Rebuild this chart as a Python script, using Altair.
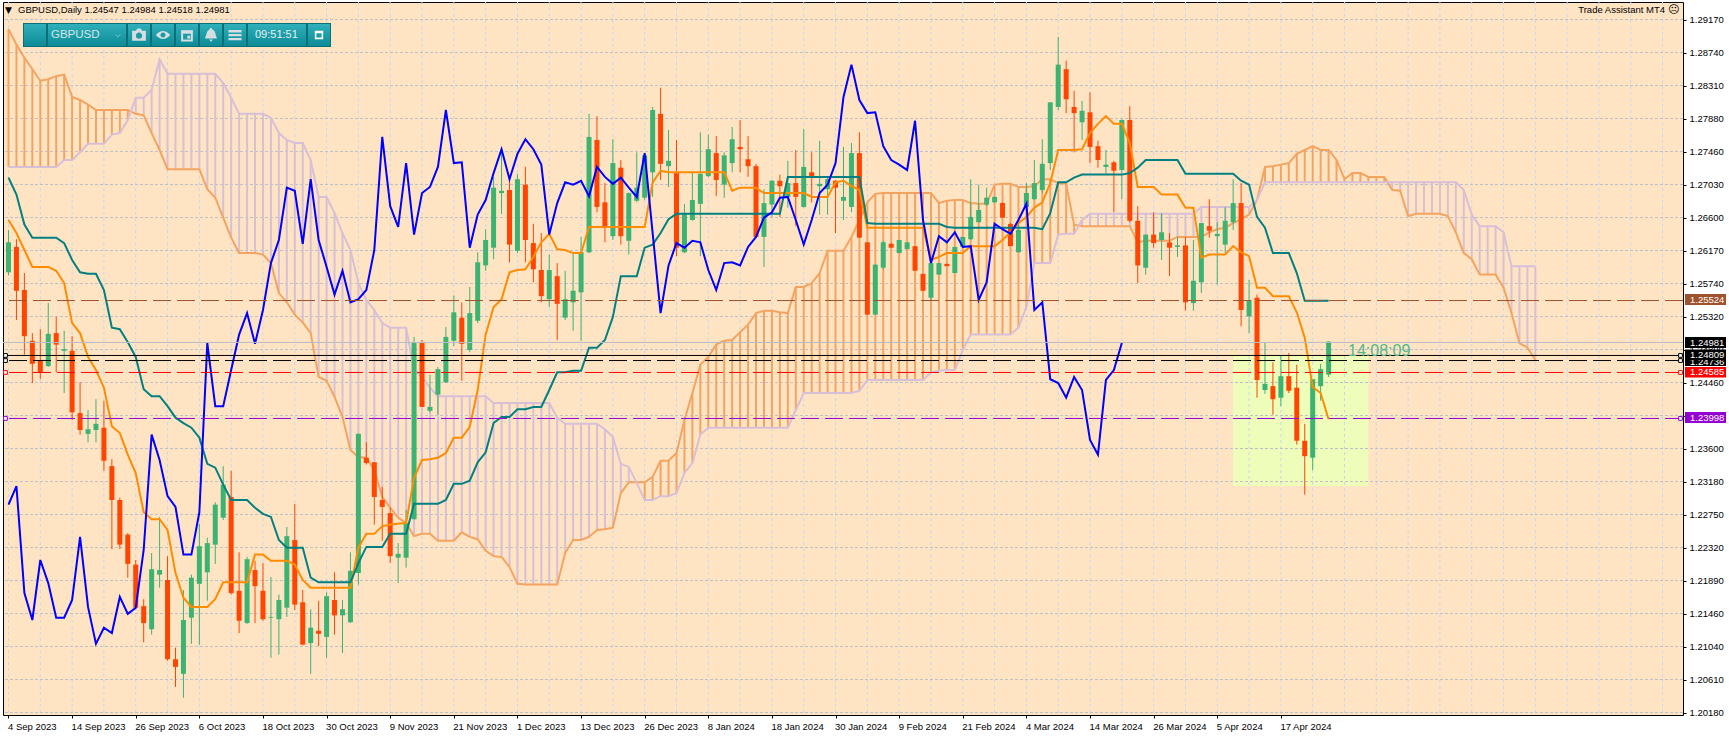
import altair as alt
import pandas as pd

# ---- prices in 1/10000 (pips) ----
highs = [12643,12631,12587,12509,12514,12548,12530,12512,12505,12445,
12409,12423,12421,12345,12295,12249,12214,12163,12223,12270,
12219,12100,12175,12195,12261,12243,12289,12336,12330,12224,
12218,12213,12210,12192,12169,12257,12287,12175,12150,12161,
12172,12198,12162,12224,12378,12367,12341,12309,12282,12236,
12279,12504,12500,12455,12465,12517,12558,12549,12569,12614,
12644,12712,12747,12708,12716,12725,12651,12639,12611,12600,
12590,12612,12634,12794,12791,12704,12761,12734,12692,12744,
12740,12803,12828,12773,12760,12677,12717,12770,12767,12765,
12744,12777,12786,12765,12729,12696,12708,12715,12733,12747,
12774,12744,12759,12711,12708,12751,12756,12770,12627,12598,
12629,12626,12630,12627,12622,12586,12601,12600,12599,12621,
12634,12709,12702,12698,12687,12679,12652,12653,12704,12734,
12761,12809,12894,12863,12824,12811,12822,12759,12747,12733,
12787,12804,12674,12637,12666,12665,12639,12634,12634,12630,
12652,12683,12653,12673,12709,12704,12578,12559,12497,12471,
12479,12483,12468,12391,12449,12469,12498]
lows = [12584,12526,12481,12444,12449,12465,12458,12431,12396,12377,
12367,12367,12330,12228,12228,12191,12150,12107,12117,12178,
12083,12049,12035,12105,12104,12161,12209,12266,12169,12119,
12131,12132,12135,12087,12091,12140,12149,12103,12066,12102,
12087,12117,12093,12132,12182,12338,12260,12239,12210,12184,
12204,12267,12413,12406,12403,12444,12492,12447,12484,12522,
12590,12605,12664,12601,12613,12601,12575,12549,12543,12500,
12526,12512,12499,12613,12666,12627,12630,12624,12611,12679,
12682,12686,12708,12699,12609,12613,12655,12609,12712,12687,
12685,12718,12718,12712,12634,12595,12660,12660,12672,12648,
12672,12679,12663,12663,12639,12656,12666,12633,12533,12533,
12592,12620,12613,12618,12590,12564,12552,12585,12596,12587,
12620,12630,12653,12674,12678,12659,12622,12614,12672,12682,
12691,12721,12799,12795,12744,12760,12730,12724,12716,12666,
12683,12653,12574,12585,12620,12604,12583,12608,12538,12538,
12561,12633,12572,12613,12643,12518,12509,12425,12430,12403,
12414,12431,12364,12299,12331,12421,12452]
opens = [12588,12621,12565,12499,12473,12466,12509,12486,12486,12405,
12378,12383,12386,12336,12292,12247,12208,12154,12124,12195,
12188,12085,12066,12139,12183,12198,12234,12269,12296,12174,
12132,12201,12174,12139,12137,12152,12240,12159,12106,12122,
12114,12162,12142,12133,12197,12347,12341,12292,12275,12217,
12217,12267,12496,12408,12429,12445,12499,12529,12487,12525,
12597,12620,12691,12695,12616,12702,12626,12591,12553,12583,
12529,12549,12562,12614,12760,12679,12635,12724,12629,12681,
12685,12718,12794,12726,12717,12614,12656,12677,12713,12743,
12702,12730,12751,12735,12726,12634,12676,12707,12686,12704,
12673,12718,12700,12696,12707,12681,12673,12743,12627,12533,
12594,12625,12613,12618,12622,12586,12555,12585,12599,12587,
12621,12631,12653,12676,12679,12678,12651,12614,12673,12683,
12695,12730,12803,12852,12803,12783,12796,12752,12725,12731,
12721,12786,12655,12594,12637,12630,12627,12621,12623,12548,
12575,12648,12635,12624,12653,12678,12531,12555,12435,12440,
12425,12453,12438,12369,12347,12440,12455]
closes = [12627,12564,12505,12469,12458,12508,12494,12488,12406,12383,
12384,12391,12343,12292,12234,12209,12152,12132,12202,12201,
12085,12075,12136,12191,12232,12236,12286,12312,12171,12135,
12215,12180,12137,12140,12162,12245,12156,12104,12126,12118,
12167,12142,12150,12200,12378,12340,12296,12283,12219,12222,
12262,12497,12413,12413,12462,12504,12536,12495,12535,12601,
12630,12698,12694,12624,12709,12630,12592,12557,12591,12547,
12553,12564,12614,12764,12673,12647,12730,12635,12691,12698,
12740,12799,12729,12733,12620,12665,12682,12716,12748,12708,
12740,12761,12748,12726,12634,12678,12707,12700,12704,12686,
12725,12711,12703,12709,12698,12686,12743,12633,12533,12598,
12627,12620,12630,12627,12590,12564,12600,12600,12596,12621,
12634,12660,12669,12685,12686,12659,12622,12643,12691,12704,
12729,12809,12858,12813,12795,12798,12751,12734,12728,12720,
12786,12655,12597,12637,12626,12640,12620,12623,12549,12577,
12652,12642,12638,12655,12678,12539,12552,12448,12443,12423,
12453,12434,12369,12349,12449,12462,12498]
tenkan = [12656,12639,12617,12595,12595,12595,12590,12574,12522,12509,
12478,12461,12438,12388,12379,12351,12327,12276,12267,12267,
12253,12197,12165,12153,12153,12153,12163,12185,12185,12185,
12185,12221,12221,12213,12213,12213,12208,12188,12178,12178,
12178,12178,12178,12178,12230,12248,12248,12258,12260,12261,
12262,12321,12344,12345,12347,12353,12373,12373,12387,12435,
12507,12543,12553,12588,12591,12592,12608,12627,12638,12618,
12617,12613,12613,12647,12647,12647,12647,12647,12647,12647,
12647,12705,12720,12718,12718,12718,12718,12718,12718,12718,
12718,12694,12698,12698,12698,12691,12691,12691,12691,12691,
12691,12686,12686,12686,12705,12707,12700,12695,12646,12646,
12646,12646,12646,12646,12646,12646,12604,12608,12613,12613,
12613,12622,12622,12622,12622,12630,12640,12652,12660,12672,
12679,12704,12747,12747,12747,12748,12769,12781,12791,12781,
12781,12756,12699,12699,12699,12689,12689,12689,12672,12672,
12607,12611,12611,12611,12622,12614,12609,12568,12568,12557,
12557,12557,12536,12503,12439,12431,12397]
kijun = [12711,12689,12650,12633,12633,12633,12633,12626,12604,12588,
12586,12586,12565,12516,12514,12497,12478,12436,12427,12427,
12414,12399,12392,12386,12373,12339,12334,12312,12292,12292,
12292,12282,12274,12270,12240,12230,12230,12230,12191,12185,
12185,12185,12185,12185,12210,12231,12231,12231,12248,12248,
12248,12287,12287,12287,12287,12292,12313,12313,12317,12341,
12354,12392,12400,12400,12410,12410,12413,12413,12435,12458,
12458,12460,12460,12490,12490,12500,12530,12583,12583,12583,
12620,12624,12639,12657,12664,12664,12664,12664,12664,12664,
12664,12664,12664,12664,12664,12664,12664,12664,12712,12712,
12712,12712,12712,12712,12712,12712,12712,12712,12652,12651,
12651,12651,12651,12651,12651,12651,12651,12651,12647,12646,
12646,12646,12646,12646,12646,12646,12646,12646,12646,12646,
12644,12665,12705,12705,12711,12715,12715,12715,12715,12715,
12715,12717,12724,12734,12734,12734,12734,12734,12716,12716,
12716,12716,12716,12716,12716,12707,12702,12660,12646,12613,
12613,12613,12587,12551,12551,12551,12551]
chikou = [12286,12310,12171,12136,12214,12184,12139,12139,12162,12244,
12153,12105,12126,12119,12166,12144,12152,12227,12377,12344,
12297,12283,12221,12221,12276,12496,12414,12414,12461,12507,
12535,12495,12539,12600,12630,12698,12694,12625,12709,12630,
12595,12559,12590,12549,12553,12565,12617,12764,12674,12647,
12730,12637,12691,12699,12725,12799,12730,12731,12620,12663,
12682,12717,12748,12709,12742,12761,12748,12728,12637,12678,
12705,12702,12707,12687,12725,12712,12703,12711,12698,12686,
12743,12639,12535,12597,12626,12620,12629,12627,12591,12565,
12600,12601,12597,12621,12634,12659,12666,12685,12686,12656,
12624,12656,12691,12702,12730,12816,12858,12812,12795,12796,
12752,12734,12728,12721,12785,12656,12600,12635,12627,12640,
12621,12622,12552,12575,12651,12644,12638,12656,12677,12539,
12549,12449,12444,12425,12452,12435,12370,12351,12448,12461,12496]
senkou_a = [12904,12884,12867,12852,12837,12839,12843,12845,12816,12812,
12806,12799,12799,12799,12799,12799,12794,12792,12769,12747,
12722,12722,12722,12722,12722,12696,12685,12659,12633,12613,
12613,12613,12611,12600,12561,12549,12533,12523,12509,12452,
12447,12426,12400,12357,12348,12347,12331,12296,12282,12269,
12262,12245,12248,12248,12239,12239,12239,12250,12244,12241,
12226,12219,12218,12205,12183,12182,12182,12182,12182,12182,
12223,12240,12240,12244,12253,12254,12256,12301,12315,12315,
12315,12322,12343,12343,12353,12396,12431,12468,12478,12494,
12499,12500,12510,12520,12535,12538,12538,12536,12535,12569,
12569,12574,12587,12616,12616,12616,12634,12656,12679,12690,
12691,12691,12691,12691,12691,12691,12691,12678,12681,12682,
12682,12678,12677,12677,12702,12703,12703,12699,12699,12700,
12709,12709,12704,12703,12650,12648,12648,12648,12648,12648,
12648,12648,12627,12629,12629,12629,12629,12634,12634,12634,
12634,12640,12644,12646,12652,12657,12663,12682,12725,12726,
12728,12730,12742,12747,12752,12747,12747,12734,12709,12717,
12717,12712,12712,12712,12695,12694,12661,12664,12664,12664,
12664,12661,12640,12613,12605,12585,12585,12585,12568,12535,
12496,12490,12474]
senkou_b = [12725,12725,12725,12725,12725,12725,12725,12734,12734,12744,
12755,12755,12755,12767,12769,12786,12815,12815,12825,12865,
12846,12846,12846,12846,12846,12846,12846,12834,12815,12794,
12794,12794,12794,12789,12769,12760,12756,12756,12734,12686,
12686,12665,12639,12617,12574,12552,12539,12522,12516,12516,
12516,12461,12452,12438,12427,12427,12427,12427,12427,12427,
12427,12418,12418,12418,12418,12418,12418,12418,12418,12399,
12391,12391,12391,12391,12391,12384,12374,12339,12335,12314,
12292,12292,12297,12297,12301,12327,12340,12377,12386,12386,
12386,12386,12386,12386,12386,12386,12386,12386,12386,12409,
12431,12431,12431,12431,12431,12431,12431,12434,12448,12448,
12448,12448,12448,12448,12448,12448,12458,12460,12461,12461,
12487,12507,12507,12507,12507,12507,12507,12516,12543,12600,
12600,12600,12637,12638,12638,12656,12664,12664,12664,12664,
12664,12664,12664,12664,12664,12664,12664,12664,12664,12664,
12673,12673,12673,12673,12673,12673,12673,12682,12705,12705,
12705,12705,12705,12705,12705,12705,12705,12705,12705,12705,
12705,12705,12705,12705,12705,12705,12705,12705,12705,12705,
12705,12705,12705,12695,12663,12648,12648,12648,12640,12596,
12596,12596,12596]

date_labels = ["4 Sep 2023","14 Sep 2023","26 Sep 2023","6 Oct 2023","18 Oct 2023","30 Oct 2023",
    "9 Nov 2023","21 Nov 2023","1 Dec 2023","13 Dec 2023","26 Dec 2023","8 Jan 2024","18 Jan 2024",
    "30 Jan 2024","9 Feb 2024","21 Feb 2024","4 Mar 2024","14 Mar 2024","26 Mar 2024","5 Apr 2024","17 Apr 2024"]
date_ticks = [8*k for k in range(len(date_labels))]
price_ticks = [1.29166,1.28737,1.28308,1.27879,1.2745,1.27021,1.26592,1.26163,1.25734,1.25305,1.24876,
    1.24447,1.24018,1.23589,1.2316,1.22731,1.22302,1.21873,1.21444,1.21015,1.20586,1.20157]
price_labels = ["1.29170","1.28740","1.28310","1.27880","1.27460","1.27030","1.26600","1.26170","1.25740",
    "1.25320","1.24890","1.24460","1.24030","1.23600","1.23180","1.22750","1.22320","1.21890","1.21460",
    "1.21040","1.20610","1.20180"]
# horizontal levels (price, colour, dash)
levels = [(1.24968,"#b8bcc4",[1,0]),(1.25513,"#a0522d",[18,6]),(1.24799,"#000000",[1,0]),
    (1.24733,"#000000",[18,6]),(1.24578,"#ff0000",[18,6]),(1.23980,"#9400d3",[18,6])]
zone_bars = [154,171]
zone_prices = [1.24805,1.23102]

BULL, BEAR = "#3cb371", "#ff4500"
TENKAN, KIJUN, CHIKOU = "#ff8c00", "#008080", "#0000ff"
SANDY, THISTLE = "#f4a460", "#d8bfd8"
FONT = "Liberation Sans"
FS = 9.5

# scales: one bar = 8 px
xscale = alt.Scale(domain=[-0.0625, 209.9375], nice=False, zero=False)
yscale = alt.Scale(domain=[1.20125, 1.29394], nice=False, zero=False)
x_expr = "[" + ",".join(f"'{s}'" for s in date_labels) + "][round(datum.value/8)]"
y_expr = "[" + ",".join(f"'{s}'" for s in price_labels) + "][round((1.29166-datum.value)/0.00429)]"
x_axis = alt.Axis(values=date_ticks, labelExpr=x_expr, grid=False, title=None,
    labelAlign="left", labelBaseline="top", labelFont=FONT, labelFontSize=FS, labelColor="#000000",
    tickColor="#000000", tickSize=3, labelPadding=3, labelOverlap=False, labelFlush=False, domain=False, labelOffset=-1)
y_axis = alt.Axis(orient="right", values=price_ticks, labelExpr=y_expr, grid=False, title=None,
    labelFont=FONT, labelFontSize=FS, labelColor="#000000", tickColor="#000000", tickSize=3, labelPadding=3,
    labelOverlap=False, labelFlush=False, domain=False)
def X(f="i"):
    return alt.X(f"{f}:Q", scale=xscale, axis=x_axis)
def Y(f="v"):
    return alt.Y(f"{f}:Q", scale=yscale, axis=y_axis)
def px(x): return alt.value(x-3)
def py(y): return alt.value(y-2)

def series(vals):
    return pd.DataFrame({"i": range(len(vals)), "v": [v/10000 for v in vals]})

layers = []

# profit zone, behind the grid
zone = pd.DataFrame({"a":[zone_bars[0]],"b":[zone_bars[1]],"p":[zone_prices[0]],"q":[zone_prices[1]]})
layers.append(alt.Chart(zone).mark_rect(color="#eefdb9").encode(x=X("a"), x2="b:Q", y=Y("p"), y2="q:Q"))

# grid
layers.append(alt.Chart(pd.DataFrame({"i": list(range(0, 209, 4))})).mark_rule(color="#c6d8ee", strokeWidth=1, strokeDash=[3,3]).encode(x=X()))
layers.append(alt.Chart(pd.DataFrame({"v": price_ticks})).mark_rule(color="#bcc0c8", strokeWidth=1, strokeDash=[3,2]).encode(y=Y()))

# cloud hatch + edges
cloud = pd.DataFrame({"i": range(len(senkou_a)), "a":[v/10000 for v in senkou_a], "b":[v/10000 for v in senkou_b]})
layers.append(alt.Chart(cloud[cloud.a >= cloud.b]).mark_rule(color=SANDY, strokeWidth=2).encode(x=X(), y=Y("a"), y2="b:Q"))
layers.append(alt.Chart(cloud[cloud.a < cloud.b]).mark_rule(color=THISTLE, strokeWidth=2).encode(x=X(), y=Y("a"), y2="b:Q"))
layers.append(alt.Chart(series(senkou_a)).mark_line(color=SANDY, strokeWidth=2).encode(x=X(), y=Y()))
layers.append(alt.Chart(series(senkou_b)).mark_line(color=THISTLE, strokeWidth=2).encode(x=X(), y=Y()))

# candles
cd = pd.DataFrame({"i": range(len(opens)), "o":[v/10000 for v in opens], "h":[v/10000 for v in highs],
                   "l":[v/10000 for v in lows], "c":[v/10000 for v in closes]})
up, dn = cd[cd.c >= cd.o], cd[cd.c < cd.o]
for d, col in ((up, BULL), (dn, BEAR)):
    layers.append(alt.Chart(d).mark_rule(color=col, strokeWidth=1).encode(x=X(), y=Y("h"), y2="l:Q"))
    layers.append(alt.Chart(d).mark_bar(color=col, size=5, orient="vertical").encode(x=X(), y=Y("o"), y2="c:Q"))

# ichimoku lines
for vals, col in ((tenkan, TENKAN), (kijun, KIJUN), (chikou, CHIKOU)):
    layers.append(alt.Chart(series(vals)).mark_line(color=col, strokeWidth=2).encode(x=X(), y=Y()))

# levels
for p, col, dash in levels:
    layers.append(alt.Chart(pd.DataFrame({"v":[p]})).mark_rule(color=col, strokeWidth=1, strokeDash=dash).encode(y=Y()))
# level handles
for p, col in ((1.24799,"#000000"),(1.24733,"#000000"),(1.24578,"#ff0000"),(1.23980,"#9400d3")):
    for xp in (5.5, 1680.5):
        layers.append(alt.Chart(pd.DataFrame({"v":[p]})).mark_point(shape="square", size=14, filled=True, fill="#ffffff",
            stroke=col, strokeWidth=1, opacity=1).encode(x=px(xp), y=Y()))
# zone corner handles
hand = pd.DataFrame({"i":[154.0,162.6],"v":[1.2484,1.2395]})
layers.append(alt.Chart(hand).mark_point(shape="square", size=14, fill="#ffe4c4", stroke="#f6ea90", filled=True, strokeWidth=1, opacity=1).encode(x=X(), y=Y()))

# countdown
def text(s, x, y, color="#000000", size=FS, align="left", font=FONT, **kw):
    return alt.Chart(pd.DataFrame({"t":[s]})).mark_text(color=color, fontSize=size, align=align, baseline="middle", font=font, **kw).encode(
        x=px(x), y=py(y), text="t:N")
layers.append(text("14:08:09", 1348, 351, color="#4fb98a", size=16))

# right-hand price tags
tags = [(294,305,"1.25524","#a0522d",299.5),(360,366,"1.24736","#000000",362),(337,348,"1.24981","#000000",342.5),
        (349.5,360,"1.24809","#000000",354.5),(367,377.5,"1.24585","#ff0000",372),(412,423,"1.23998","#9400d3",417.5)]
for y0,y1,s,col,yc in tags:
    layers.append(alt.Chart(pd.DataFrame({"t":[s]})).mark_rect(color=col).encode(x=px(1685), x2=px(1726), y=py(y0), y2=py(y1)))
    layers.append(text(s, 1690, yc, color="#ffffff"))

# header texts
layers.append(text("▼", 5, 10, size=9, font="DejaVu Sans"))
layers.append(text("GBPUSD,Daily  1.24547 1.24984 1.24518 1.24981", 18, 10))
layers.append(text("Trade Assistant MT4", 1665, 10, align="right"))
layers.append(text("☹", 1668, 10, size=11, font="DejaVu Sans"))

# toolbar
grad = alt.Gradient(gradient="linear", x1=0, y1=0, x2=0, y2=1, stops=[
    alt.GradientStop(color="#2eafba", offset=0), alt.GradientStop(color="#0d8c97", offset=1)])
layers.append(alt.Chart(pd.DataFrame({"a":[0]})).mark_rect(color="#0b6f78").encode(x=px(23), x2=px(331), y=py(23), y2=py(47)))
for x0,x1 in ((24,46),(48,126),(128,150),(152,174),(176,198),(200,222),(224,246),(248,306),(308,330)):
    layers.append(alt.Chart(pd.DataFrame({"a":[0]})).mark_rect(color=grad).encode(x=px(x0), x2=px(x1), y=py(24), y2=py(46)))
ICON = "#d5dee0"
layers.append(text("GBPUSD", 51, 35, color="#d5e6e8", size=11.5))
layers.append(text("09:51:51", 255, 35, color="#e6f0f1", size=11))
icons = [(139,"M-1,-0.6H-0.45L-0.25,-0.95H0.25L0.45,-0.6H1V0.85H-1Z",190,ICON),
         (139,"M-0.45,0.1A0.45,0.45 0 1 0 0.45,0.1A0.45,0.45 0 1 0 -0.45,0.1Z",190,"#1c9aa5"),
         (163,"M-1,0Q0,-1.1 1,0Q0,1.1 -1,0Z",210,ICON),
         (163,"M-0.35,0A0.35,0.35 0 1 0 0.35,0A0.35,0.35 0 1 0 -0.35,0Z",210,"#1c9aa5"),
         (187,"M-0.9,-0.75H0.9V1H-0.9Z",170,ICON),
         (187,"M-0.6,-0.2H0.6V0.7H-0.6Z",170,"#1c9aa5"),
         (187,"M0.05,0.1H0.5V0.55H0.05Z",170,ICON),
         (211,"M-0.2,-0.8A0.2,0.2 0 0 1 0.2,-0.8C0.7,-0.6 0.6,0 0.9,0.5H-0.9C-0.6,0 -0.7,-0.6 -0.2,-0.8ZM-0.25,0.65H0.25L0,1Z",190,ICON),
         (235,"M-1,-0.75H1V-0.4H-1ZM-1,-0.15H1V0.2H-1ZM-1,0.45H1V0.8H-1Z",170,ICON),
         (319,"M-0.8,-0.8H0.8V0.8H-0.8ZM-0.5,-0.35V0.5H0.5V-0.35Z",110,"#ffffff"),
         (118,"M-1,-0.4L0,0.5L1,-0.4L1,0L0,0.9L-1,0Z",25,"#7fc3ca")]
for xc,path,sz,col in icons:
    layers.append(alt.Chart(pd.DataFrame({"a":[0]})).mark_point(shape=path, size=sz, filled=True, color=col, opacity=1).encode(x=px(xc), y=py(35)))

chart = alt.layer(*layers).properties(
    width=1680, height=713, background="#ffffff",
    autosize=alt.AutoSizeParams(type="none"),
    padding={"left":3,"top":2,"right":46,"bottom":21},
).configure_view(fill="#ffe4c4", stroke="#000000", strokeWidth=1)

chart.save("out.html", embed_options={"renderer": "svg", "actions": False, "defaultStyle": "body{margin:0;overflow:hidden}"})
